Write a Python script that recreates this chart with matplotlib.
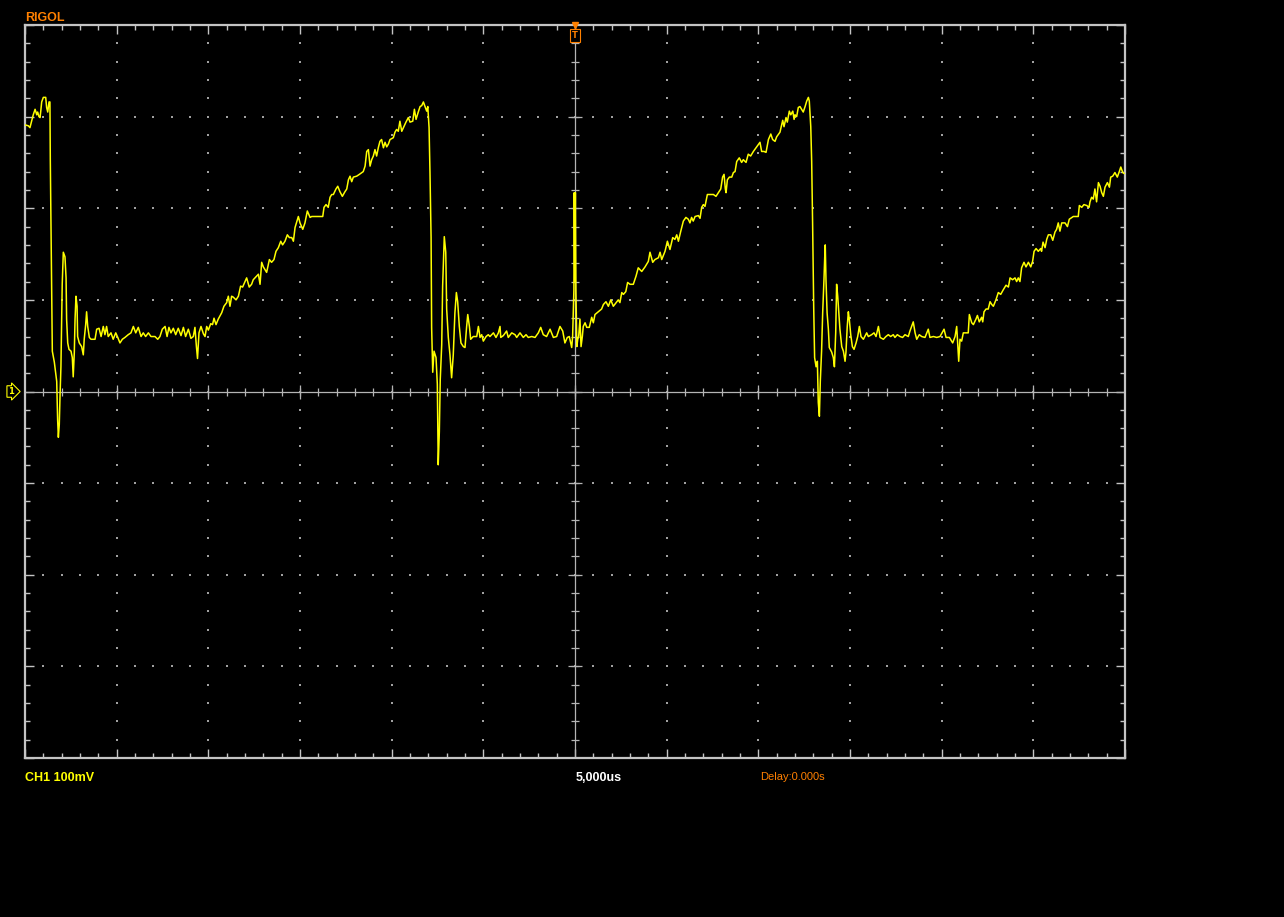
import numpy as np
import matplotlib
matplotlib.use('Agg')
import matplotlib.pyplot as plt
from matplotlib.ticker import MultipleLocator

# CH1 trace: (time in us, level in mV)
top_1 = [(-30.00, 291), (-29.82, 290), (-29.73, 288), (-29.64, 295), (-29.55, 302), (-29.45, 308),
         (-29.36, 302), (-29.31, 305), (-29.24, 300), (-29.18, 299), (-29.14, 306), (-29.09, 316),
         (-29.00, 321), (-28.87, 321), (-28.82, 310), (-28.76, 305), (-28.69, 316), (-28.64, 316)]

fall_1 = [(-28.62, 253), (-28.56, 141), (-28.51, 44), (-28.40, 32), (-28.27, 11), (-28.22, -31),
          (-28.18, -50), (-28.13, -36), (-28.09, -5), (-28.04, 27), (-27.97, 117), (-27.91, 152),
          (-27.82, 147), (-27.76, 124), (-27.73, 79), (-27.67, 53), (-27.60, 46), (-27.49, 44),
          (-27.42, 37), (-27.37, 16), (-27.31, 43), (-27.27, 79), (-27.22, 104), (-27.16, 93),
          (-27.13, 60), (-27.04, 53), (-26.91, 49), (-26.82, 40), (-26.77, 57), (-26.69, 73),
          (-26.64, 87), (-26.58, 71), (-26.49, 59), (-26.40, 57), (-26.18, 57), (-26.09, 68)]

flat_1 = [(-25.96, 69), (-25.85, 60), (-25.73, 71), (-25.64, 62), (-25.55, 71), (-25.46, 60),
          (-25.31, 64), (-25.19, 57), (-25.05, 64), (-24.94, 59), (-24.82, 53), (-24.69, 57),
          (-24.55, 59), (-24.37, 62), (-24.22, 64), (-24.09, 71), (-23.96, 64), (-23.82, 70),
          (-23.67, 60), (-23.55, 64), (-23.42, 60), (-23.27, 64), (-23.13, 60), (-22.91, 60),
          (-22.76, 57), (-22.64, 60), (-22.51, 68), (-22.36, 71), (-22.25, 60), (-22.15, 70),
          (-22.04, 64), (-21.91, 69), (-21.78, 62), (-21.64, 69), (-21.49, 61), (-21.36, 70),
          (-21.24, 60), (-21.09, 68), (-20.95, 58), (-20.82, 60), (-20.73, 70), (-20.65, 49),
          (-20.59, 36), (-20.51, 64), (-20.40, 71), (-20.27, 63), (-20.18, 60), (-20.09, 71)]

ramp_1 = [(-20.00, 67), (-19.87, 74), (-19.77, 73), (-19.69, 80), (-19.58, 73), (-19.46, 79),
          (-19.27, 86), (-19.15, 93), (-19.00, 97), (-18.91, 104), (-18.82, 93), (-18.73, 104),
          (-18.64, 103), (-18.49, 100), (-18.36, 104), (-18.24, 115), (-18.13, 114), (-18.00, 120),
          (-17.91, 124), (-17.77, 114), (-17.64, 117), (-17.55, 122), (-17.36, 126), (-17.27, 128),
          (-17.18, 117), (-17.09, 141), (-17.00, 136), (-16.82, 130), (-16.67, 144), (-16.55, 141),
          (-16.42, 144), (-16.31, 153), (-16.18, 157), (-16.05, 164), (-15.95, 160), (-15.82, 164),
          (-15.69, 171), (-15.58, 168), (-15.45, 168), (-15.36, 164), (-15.27, 179), (-15.09, 191),
          (-15.00, 184), (-14.85, 177), (-14.73, 184), (-14.60, 197), (-14.45, 190), (-14.36, 191),
          (-13.76, 191), (-13.69, 201), (-13.58, 204), (-13.46, 201), (-13.36, 212), (-13.27, 215),
          (-13.18, 215), (-13.04, 221), (-12.94, 224), (-12.82, 218), (-12.69, 213), (-12.55, 218),
          (-12.45, 221), (-12.36, 231), (-12.27, 235), (-12.18, 229), (-12.09, 234), (-11.91, 235),
          (-11.76, 237), (-11.55, 240), (-11.45, 246), (-11.36, 262), (-11.27, 264), (-11.18, 246),
          (-11.09, 253), (-11.00, 257), (-10.91, 264), (-10.82, 257), (-10.73, 266), (-10.64, 273),
          (-10.55, 275), (-10.45, 266), (-10.36, 272), (-10.27, 267), (-10.18, 270), (-10.09, 275),
          (-9.91, 277), (-9.82, 283), (-9.73, 286), (-9.64, 284), (-9.55, 295), (-9.45, 284),
          (-9.36, 288), (-9.22, 294), (-9.09, 299), (-9.00, 294), (-8.85, 295), (-8.76, 308),
          (-8.67, 297), (-8.55, 305), (-8.45, 311), (-8.36, 312), (-8.27, 316), (-8.18, 311),
          (-8.09, 306), (-8.03, 311)]

fall_2 = [(-7.96, 288), (-7.91, 239), (-7.85, 168), (-7.82, 70), (-7.76, 21), (-7.69, 44),
          (-7.58, 37), (-7.51, 8), (-7.46, -80), (-7.40, -44), (-7.35, 13), (-7.27, 51),
          (-7.22, 115), (-7.13, 169), (-7.05, 152), (-7.00, 90), (-6.91, 59), (-6.82, 40),
          (-6.73, 15), (-6.64, 40), (-6.55, 86), (-6.47, 108), (-6.40, 98), (-6.31, 71),
          (-6.22, 53), (-6.09, 49), (-6.00, 48), (-5.91, 71), (-5.85, 84), (-5.76, 71), (-5.69, 57)]

flat_2 = [(-5.55, 60), (-5.36, 60), (-5.27, 71), (-5.18, 59), (-5.09, 62), (-5.00, 55),
          (-4.85, 60), (-4.73, 62), (-4.64, 60), (-4.45, 64), (-4.31, 59), (-4.18, 64),
          (-4.09, 71), (-4.05, 59), (-3.91, 61), (-3.73, 66), (-3.64, 59), (-3.45, 64),
          (-3.27, 62), (-3.18, 59), (-3.00, 64), (-2.82, 59), (-2.67, 62), (-2.55, 59),
          (-2.36, 60), (-2.18, 59), (-2.00, 64), (-1.87, 70), (-1.73, 62), (-1.55, 60),
          (-1.36, 68), (-1.18, 59), (-1.00, 60), (-0.82, 71), (-0.67, 66), (-0.55, 53),
          (-0.42, 59), (-0.31, 60), (-0.18, 48), (-0.13, 60),
          # glitch at the trigger point
          (-0.06, 111), (-0.04, 217), (-0.01, 120), (0.02, 217), (0.05, 111), (0.10, 49),
          (0.15, 57), (0.20, 60), (0.27, 79), (0.33, 49), (0.40, 60), (0.45, 71), (0.55, 75),
          (0.64, 70), (0.78, 70)]

ramp_2 = [(0.91, 81), (1.00, 75), (1.09, 84), (1.27, 87), (1.45, 90), (1.55, 95), (1.69, 98),
          (1.82, 93), (1.95, 100), (2.09, 93), (2.24, 97), (2.36, 100), (2.45, 97), (2.55, 108),
          (2.64, 106), (2.77, 109), (2.87, 119), (3.00, 117), (3.18, 117), (3.33, 126), (3.45, 135),
          (3.64, 131), (3.82, 136), (4.00, 142), (4.09, 152), (4.24, 141), (4.36, 144), (4.55, 146),
          (4.64, 152), (4.73, 144), (4.91, 153), (5.04, 164), (5.18, 155), (5.33, 168), (5.45, 166),
          (5.55, 171), (5.64, 164), (5.77, 175), (5.91, 186), (6.05, 190), (6.18, 188), (6.27, 184),
          (6.36, 190), (6.45, 186), (6.55, 191), (6.73, 192), (6.82, 189), (6.91, 201), (7.00, 204),
          (7.09, 202), (7.22, 215), (7.55, 215), (7.69, 213), (7.82, 217), (7.95, 221), (8.05, 234),
          (8.13, 237), (8.20, 221), (8.24, 217), (8.31, 231), (8.42, 234), (8.55, 234), (8.64, 239),
          (8.73, 240), (8.82, 251), (8.96, 255), (9.09, 250), (9.18, 253), (9.33, 250), (9.45, 259),
          (9.58, 257), (9.73, 262), (9.91, 267), (10.09, 272), (10.18, 262), (10.31, 262),
          (10.42, 261), (10.55, 275), (10.68, 281), (10.78, 275), (10.91, 273), (11.00, 278),
          (11.18, 283), (11.27, 291), (11.33, 296), (11.40, 289), (11.51, 299), (11.58, 294),
          (11.69, 306), (11.77, 302), (11.88, 306), (11.95, 297), (12.00, 302), (12.09, 300),
          (12.18, 310), (12.27, 311), (12.36, 308), (12.45, 305), (12.55, 311), (12.64, 317),
          (12.73, 321), (12.78, 317)]

fall_3 = [(12.86, 289), (12.91, 251), (12.96, 184), (13.02, 92), (13.07, 37), (13.15, 27),
          (13.22, 33), (13.27, -12), (13.33, -27), (13.38, 11), (13.45, 44), (13.51, 86),
          (13.58, 122), (13.62, 146), (13.65, 160), (13.69, 122), (13.75, 86), (13.82, 68),
          (13.87, 48), (14.00, 43), (14.09, 37), (14.15, 27), (14.22, 64), (14.27, 117),
          (14.33, 104), (14.40, 82), (14.45, 68), (14.55, 49), (14.64, 44), (14.73, 33),
          (14.78, 43), (14.85, 71), (14.91, 87), (14.96, 79), (15.04, 62), (15.13, 49),
          (15.22, 46), (15.33, 53), (15.42, 60), (15.51, 71)]

flat_3 = [(15.60, 60), (15.73, 57), (15.91, 64), (16.00, 60), (16.18, 62), (16.31, 64),
          (16.42, 60), (16.55, 71), (16.64, 59), (16.82, 57), (16.96, 60), (17.09, 62),
          (17.22, 60), (17.36, 62), (17.45, 59), (17.58, 62), (17.73, 60), (17.87, 59),
          (18.00, 62), (18.18, 60), (18.27, 66), (18.36, 71), (18.45, 76), (18.55, 64),
          (18.64, 57), (18.78, 62), (18.91, 60), (19.09, 59), (19.27, 68), (19.36, 59),
          (19.55, 60), (19.73, 59), (19.91, 60), (20.13, 68), (20.24, 59), (20.42, 59),
          (20.60, 53), (20.73, 60), (20.82, 71), (20.87, 53), (20.93, 33), (21.00, 57),
          (21.09, 55), (21.18, 64), (21.45, 64)]

ramp_3 = [(21.51, 84), (21.64, 75), (21.73, 73), (21.87, 79), (21.95, 83), (22.05, 76),
          (22.18, 81), (22.24, 76), (22.31, 87), (22.42, 90), (22.54, 90), (22.64, 98),
          (22.73, 95), (22.82, 93), (22.96, 100), (23.09, 108), (23.22, 106), (23.36, 111),
          (23.51, 116), (23.64, 114), (23.73, 124), (23.87, 122), (24.00, 124), (24.09, 120),
          (24.18, 124), (24.27, 120), (24.36, 135), (24.49, 141), (24.60, 136), (24.73, 141),
          (24.86, 136), (24.96, 142), (25.04, 153), (25.15, 156), (25.27, 153), (25.40, 156),
          (25.45, 153), (25.53, 163), (25.64, 157), (25.73, 166), (25.82, 171), (25.95, 171),
          (26.06, 165), (26.18, 174), (26.27, 177), (26.36, 184), (26.45, 175), (26.55, 184),
          (26.73, 184), (26.86, 180), (26.96, 188), (27.18, 191), (27.45, 191), (27.51, 203),
          (27.64, 201), (27.76, 204), (27.91, 203), (28.04, 201), (28.09, 207), (28.18, 212),
          (28.27, 210), (28.36, 221), (28.45, 207), (28.55, 228), (28.64, 224), (28.73, 217),
          (28.82, 213), (28.91, 223), (29.04, 228), (29.15, 223), (29.22, 234), (29.33, 235),
          (29.45, 239), (29.58, 234), (29.69, 240), (29.77, 245), (29.88, 239), (29.95, 238)]

segments = [top_1, fall_1, flat_1, ramp_1, fall_2, flat_2, ramp_2, fall_3, flat_3, ramp_3]
trace = [p for seg in segments for p in seg]
t_us = [p[0] for p in trace]
v_mv = [p[1] for p in trace]

mv_div = 100   # CH1 100mV
us_div = 5     # 5,000us

grid_col = '#b4b4b4'
frame_col = '#c4c4c4'
orange = '#ff8000'

fig = plt.figure(figsize=(12.84, 9.17), dpi=100, facecolor='black')
ax = fig.add_axes([25 / 1284, 159 / 917, 1100 / 1284, 733 / 917])
ax.set_facecolor('black')
ax.set_xlim(-6 * us_div, 6 * us_div)
ax.set_ylim(-4 * mv_div, 4 * mv_div)

for s in ax.spines.values():
    s.set_color(frame_col)
    s.set_linewidth(1.6)

ax.xaxis.set_major_locator(MultipleLocator(us_div))
ax.xaxis.set_minor_locator(MultipleLocator(us_div / 5))
ax.yaxis.set_major_locator(MultipleLocator(mv_div))
ax.yaxis.set_minor_locator(MultipleLocator(mv_div / 5))
ax.tick_params(which='both', direction='in', top=True, right=True, bottom=True, left=True,
               labelbottom=False, labelleft=False, color=frame_col, width=1)
ax.tick_params(which='major', length=6.5)
ax.tick_params(which='minor', length=3.6)

# dotted graticule
xs_major = np.arange(-5, 6) * us_div
ys_major = np.arange(-3, 4) * mv_div
xs_minor = np.arange(-29, 30) * us_div / 5
ys_minor = np.arange(-19, 20) * mv_div / 5
dx, dy = [], []
for xg in xs_major:
    if xg == 0:
        continue
    dx += [xg] * len(ys_minor)
    dy += list(ys_minor)
for yg in ys_major:
    if yg == 0:
        continue
    dx += list(xs_minor)
    dy += [yg] * len(xs_minor)
ax.scatter(dx, dy, s=1.6, marker='s', color='#a0a0a0', linewidths=0, zorder=1)

# centre cross with ticks
ax.axhline(0, color=grid_col, lw=0.9, zorder=2)
ax.axvline(0, color=grid_col, lw=0.9, zorder=2)
ax.plot(xs_minor, np.zeros(len(xs_minor)), ls='none', marker='|', ms=6, mew=0.9, color=grid_col, zorder=2)
ax.plot(xs_major, np.zeros(len(xs_major)), ls='none', marker='|', ms=10, mew=0.9, color=grid_col, zorder=2)
ax.plot(np.zeros(len(ys_minor)), ys_minor, ls='none', marker='_', ms=6, mew=0.9, color=grid_col, zorder=2)
ax.plot(np.zeros(len(ys_major)), ys_major, ls='none', marker='_', ms=10, mew=0.9, color=grid_col, zorder=2)

ax.plot(t_us, v_mv, color='#ffff00', lw=1.1, zorder=5)

# trigger position marker and channel 1 ground marker
ax.plot([0], [4 * mv_div], marker='v', ms=4, color=orange, clip_on=False, zorder=6)
ax.annotate('T', xy=(0, 4 * mv_div), xytext=(0, -7.5), textcoords='offset points',
            ha='center', va='center', color=orange, fontsize=6, fontweight='bold',
            bbox=dict(boxstyle='square,pad=0.2', fc='black', ec=orange, lw=0.8),
            annotation_clip=False, zorder=6)
ax.annotate('1', xy=(-6 * us_div, 0), xytext=(-10, 0), textcoords='offset points',
            ha='center', va='center', color='#ffff00', fontsize=6, fontweight='bold',
            bbox=dict(boxstyle='rarrow,pad=0.15', fc='black', ec='#ffff00', lw=0.8),
            annotation_clip=False, zorder=6)

fam = ['Liberation Sans', 'DejaVu Sans']
fig.text(25 / 1284, 1 - 21 / 917, 'RIGOL', color=orange, fontsize=9, fontweight='bold',
         family=fam, va='baseline')
fig.text(25 / 1284, 1 - 781 / 917, 'CH1 100mV', color='#ffff00', fontsize=9, fontweight='bold',
         family=fam, va='baseline')
fig.text(576 / 1284, 1 - 781 / 917, '5,000us', color='white', fontsize=9, fontweight='bold',
         family=fam, va='baseline')
fig.text(760 / 1284, 1 - 780 / 917, 'Delay:0.000s', color=orange, fontsize=8,
         family=fam, va='baseline')

fig.savefig('out.png', dpi=100, facecolor='black')
